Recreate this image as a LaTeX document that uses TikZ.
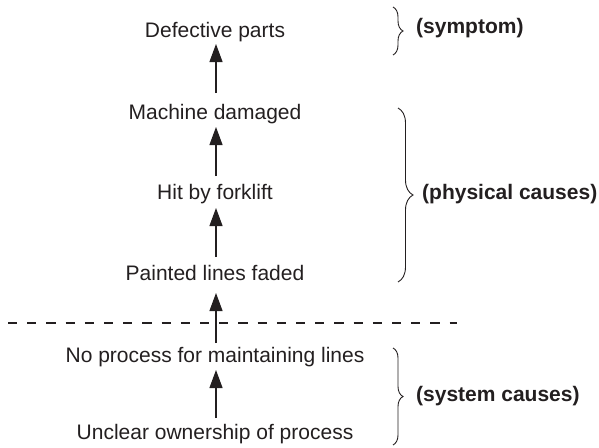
\documentclass[tikz,border=0pt]{standalone}
\usepackage{fontspec}
\setmainfont{Liberation Sans}
\usetikzlibrary{arrows.meta,decorations.pathreplacing}
\definecolor{ink}{RGB}{35,31,32}
\begin{document}
\begin{tikzpicture}[x=1pt,y=-1pt,
  txt/.style={inner sep=0pt,anchor=base,font=\fontsize{21}{25}\selectfont,text=ink},
  lbl/.style={inner sep=0pt,anchor=base west,font=\fontsize{21}{25}\selectfont\bfseries,text=ink},
  arr/.style={draw=ink,line width=1.1pt,-{Triangle[length=18pt,width=13pt]}},
  brc/.style={draw=ink,line width=0.9pt,decorate,decoration={brace,amplitude=#1}},
  sepline/.style={draw=ink,line width=1.2pt,dash pattern=on 9.2pt off 10pt}]
\useasboundingbox (0,0) rectangle (599,447);
% causal chain
\node[txt] (d) at (215,37)  {Defective parts};
\node[txt] (m) at (215,119) {Machine damaged};
\node[txt] (h) at (215,199) {Hit by forklift};
\node[txt] (p) at (215,280) {Painted lines faded};
\node[txt] (n) at (215,362) {No process for maintaining lines};
\node[txt] (u) at (215,439) {Unclear ownership of process};
% arrows
\draw[arr] ([shift={(1pt,26pt)}]m.base) -- ([shift={(1pt,-7pt)}]d.base);
\draw[arr] ([shift={(1pt,23pt)}]h.base) -- ([shift={(1pt,-8pt)}]m.base);
\draw[arr] ([shift={(1pt,23pt)}]p.base) -- ([shift={(1pt,-9pt)}]h.base);
\draw[arr] ([shift={(1pt,19pt)}]n.base) -- ([shift={(1pt,-13pt)}]p.base);
\draw[arr] ([shift={(1pt,21pt)}]u.base) -- ([shift={(1pt,-8pt)}]n.base);
% separator
\coordinate (sl) at (8,323);
\coordinate (sr) at (457,323);
\draw[sepline] (sl) -- (sr);
% braces
\draw[brc=10pt] (393,7) -- (393,55);
\draw[brc=15pt] (398,108) -- (398,282);
\draw[brc=10pt] (393,348) -- (393,445);
\node[lbl] (ls) at (416,33)  {(symptom)};
\node[lbl] (lp) at (422,199) {(physical causes)};
\node[lbl] (lsys) at (416,401) {(system causes)};
\end{tikzpicture}
\end{document}
